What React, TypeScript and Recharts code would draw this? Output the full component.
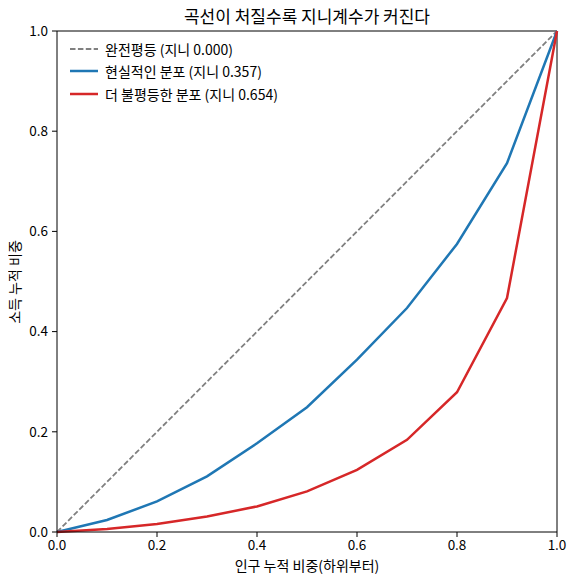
import React from 'react';
import { LineChart, Line, XAxis, YAxis, ReferenceLine } from 'recharts';

const xs = [0, 0.1, 0.2, 0.3, 0.4, 0.5, 0.6, 0.7, 0.8, 0.9, 1.0];
const equality = [0, 0.1, 0.2, 0.3, 0.4, 0.5, 0.6, 0.7, 0.8, 0.9, 1.0];
const realistic = [0, 0.024, 0.061, 0.111, 0.177, 0.249, 0.344, 0.447, 0.575, 0.736, 1.0];
const unequal = [0, 0.006, 0.016, 0.031, 0.051, 0.081, 0.124, 0.184, 0.279, 0.467, 1.0];
const ticks = [0, 0.2, 0.4, 0.6, 0.8, 1.0];

const title = '곡선이 처질수록 지니계수가 커진다';
const xLabel = '인구 누적 비중(하위부터)';
const yLabel = '소득 누적 비중';
const names = ['완전평등 (지니 0.000)', '현실적인 분포 (지니 0.357)', '더 불평등한 분포 (지니 0.654)'];
const colors = ['#808080', '#1f77b4', '#d62728'];

const data = xs.map((x, i) => ({ x, eq: equality[i], real: realistic[i], uneq: unequal[i] }));

const FONT = '"Noto Sans CJK KR", "Noto Sans", sans-serif';

const LegendBox = () => (
  <div style={{ position: 'absolute', left: 68, top: 38, fontFamily: FONT, fontSize: 14, color: '#000' }}>
    {names.map((n, i) => (
      <div key={n} style={{ display: 'flex', alignItems: 'center', height: 22.3 }}>
        <svg width={32} height={10} style={{ display: 'block' }}>
          <line x1={2} y1={5} x2={30} y2={5} stroke={colors[i]} strokeWidth={i === 0 ? 1.8 : 2.5}
            strokeDasharray={i === 0 ? '5.5 2.4' : undefined} />
        </svg>
        <span style={{ marginLeft: 5, whiteSpace: 'nowrap' }}>{n}</span>
      </div>
    ))}
  </div>
);

export default function App() {
  return (
    <div style={{ position: 'relative', width: 576, height: 584, margin: -8, fontFamily: FONT }}>
      <LineChart width={576} height={584} data={data} margin={{ top: 31, right: 19, bottom: 22, left: 0 }}>
        <XAxis dataKey="x" type="number" domain={[0, 1]} ticks={ticks}
          tickFormatter={(v: number) => v.toFixed(1)} stroke="#000" tickSize={5} tickMargin={3}
          height={30} tick={{ fill: '#000', fontSize: 13.5, fontFamily: FONT }} />
        <YAxis type="number" domain={[0, 1]} ticks={ticks}
          tickFormatter={(v: number) => v.toFixed(1)} stroke="#000" tickSize={5} tickMargin={4}
          width={57} tick={{ fill: '#000', fontSize: 13.5, fontFamily: FONT }} />
        <ReferenceLine y={1} stroke="#000" strokeWidth={1} />
        <ReferenceLine x={1} stroke="#000" strokeWidth={1} />
        <Line dataKey="eq" name={names[0]} stroke={colors[0]} strokeWidth={1.8} strokeDasharray="5.5 2.4"
          dot={false} activeDot={false} isAnimationActive={false} type="linear" />
        <Line dataKey="real" name={names[1]} stroke={colors[1]} strokeWidth={2.5}
          dot={false} activeDot={false} isAnimationActive={false} type="linear" />
        <Line dataKey="uneq" name={names[2]} stroke={colors[2]} strokeWidth={2.5}
          dot={false} activeDot={false} isAnimationActive={false} type="linear" />
      </LineChart>
      <LegendBox />
      <div style={{ position: 'absolute', left: 57, width: 500, top: 3, textAlign: 'center', fontSize: 17, lineHeight: '26px', color: '#000' }}>
        {title}
      </div>
      <div style={{ position: 'absolute', left: 57, width: 500, top: 554, textAlign: 'center', fontSize: 14, lineHeight: '22px', color: '#000' }}>
        {xLabel}
      </div>
      <div style={{ position: 'absolute', left: 14, top: 282, width: 200, marginLeft: -100, marginTop: -11, textAlign: 'center', fontSize: 14, lineHeight: '22px', color: '#000', transform: 'rotate(-90deg)' }}>
        {yLabel}
      </div>
    </div>
  );
}
